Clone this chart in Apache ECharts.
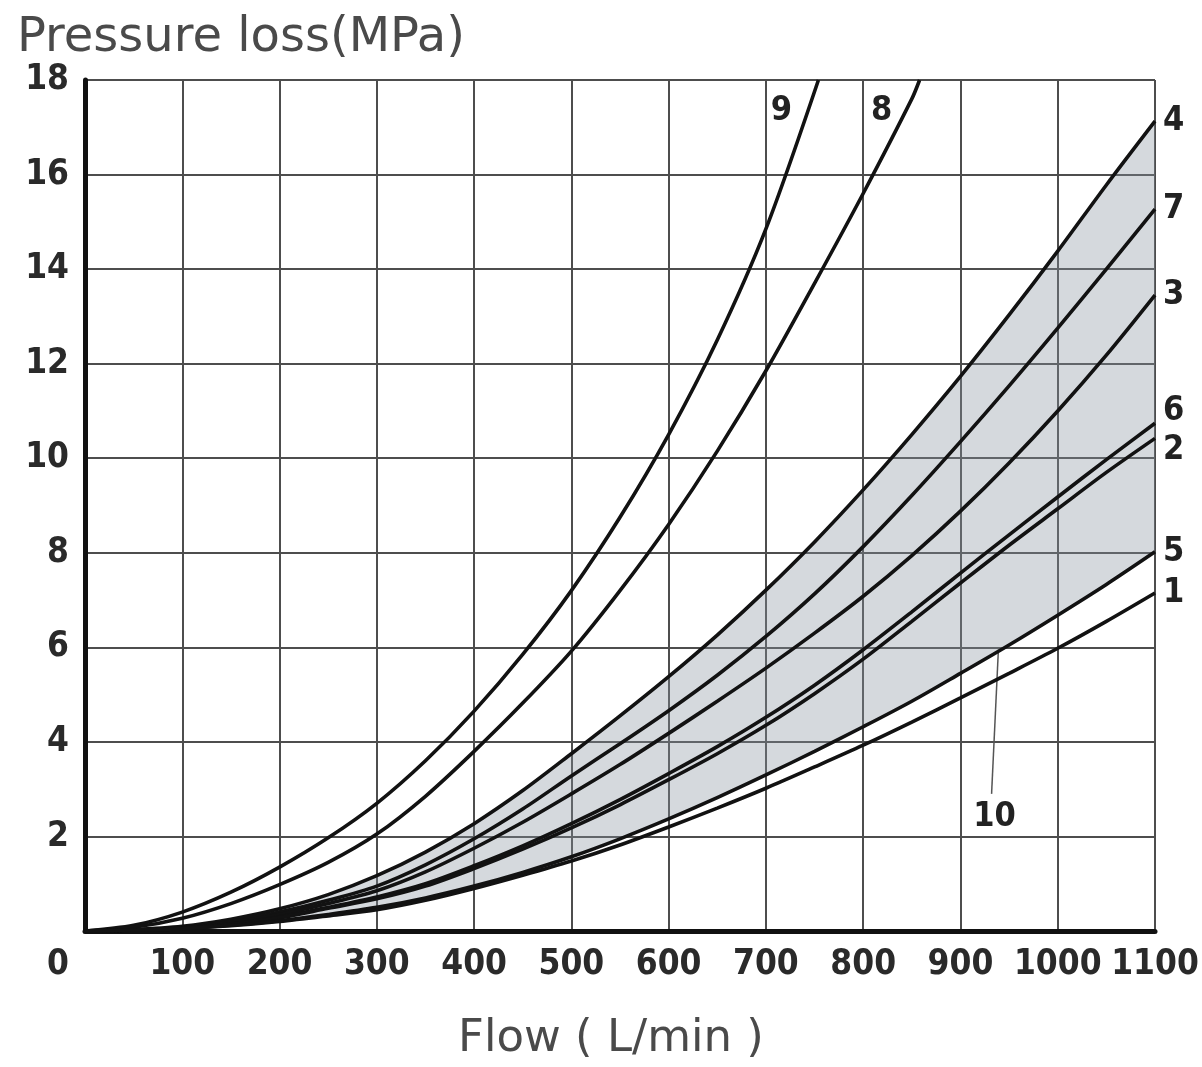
<!DOCTYPE html>
<html>
<head>
<meta charset="utf-8">
<script src="https://cdn.jsdelivr.net/npm/echarts@6/dist/echarts.min.js"></script>
<style>
html,body{margin:0;padding:0;background:#fff;}
#chart{width:1202px;height:1067px;}
</style>
</head>
<body>
<div id="chart"></div>
<script>
// ---- data ----
const flow = [0,50,100,150,200,250,300,350,400,450,500,550,600,650,700,750,800,850,900,950,1000,1050,1100];
const curve4 = [0,0.03,0.1,0.25,0.47,0.77,1.17,1.67,2.27,2.97,3.75,4.55,5.38,6.26,7.21,8.23,9.33,10.5,11.73,13.03,14.38,15.78,17.13];
const curve7 = [0,0.02,0.08,0.2,0.4,0.65,0.95,1.4,1.95,2.58,3.28,3.96,4.66,5.41,6.23,7.13,8.13,9.21,10.35,11.53,12.75,14.0,15.27];
const curve3 = [0,0.02,0.07,0.18,0.35,0.58,0.85,1.25,1.75,2.3,2.9,3.52,4.18,4.86,5.56,6.3,7.08,7.94,8.88,9.9,11.0,12.18,13.45];
const curve6 = [0,0.02,0.06,0.15,0.3,0.5,0.72,1.0,1.38,1.8,2.27,2.78,3.33,3.9,4.52,5.2,5.95,6.75,7.57,8.38,9.18,9.97,10.74];
const curve2 = [0,0.02,0.06,0.14,0.28,0.48,0.68,0.95,1.32,1.73,2.18,2.67,3.2,3.75,4.35,5.02,5.75,6.55,7.36,8.16,8.93,9.7,10.42];
const curve5 = [0,0.02,0.05,0.12,0.22,0.35,0.5,0.7,0.95,1.24,1.57,1.95,2.37,2.82,3.3,3.8,4.32,4.86,5.45,6.05,6.68,7.33,8.02];
const curve1 = [0,0.02,0.05,0.11,0.2,0.32,0.45,0.65,0.9,1.18,1.48,1.82,2.2,2.6,3.02,3.47,3.93,4.42,4.93,5.45,5.98,6.55,7.15];
const flow9 = [0,50,100,150,200,250,300,350,400,450,500,550,600,650,700,754];
const curve9 = [0,0.12,0.4,0.82,1.35,1.97,2.7,3.6,4.65,5.85,7.2,8.75,10.5,12.5,14.85,18];
const flow8 = [0,50,100,150,200,250,300,350,400,450,500,550,600,650,700,750,800,850,858];
const curve8 = [0,0.08,0.27,0.58,0.98,1.45,2.05,2.85,3.8,4.82,5.92,7.2,8.6,10.15,11.85,13.7,15.6,17.6,18];
const xTicks = [0,100,200,300,400,500,600,700,800,900,1000,1100];
const yTicks = [0,2,4,6,8,10,12,14,16,18];

const pairs = (xs, ys) => xs.map((x, i) => [x, ys[i]]);
const band = curve4.map((v, i) => +(v - curve5[i]).toFixed(3));

const numFont = "'Liberation Sans Narrow', 'DejaVu Sans Condensed', sans-serif";
const titleFont = "'DejaVu Sans', 'Liberation Sans', sans-serif";
const lineCol = '#121212';
const SMOOTH = 0.3;

function lbl(text, extra) {
  return Object.assign({ show: true, formatter: text, fontFamily: numFont, fontWeight: 'bold', fontSize: 34, color: '#222', distance: 8 }, extra || {});
}

function curveSeries(name, xs, ys, extra) {
  return Object.assign({
    name: name,
    type: 'line',
    xAxisIndex: 0,
    data: pairs(xs, ys),
    smooth: SMOOTH,
    showSymbol: false,
    symbol: 'none',
    lineStyle: { color: lineCol, width: 3.6 },
    z: 5,
    silent: true,
    endLabel: lbl(name)
  }, extra || {});
}

const chart = echarts.init(document.getElementById('chart'), null, { renderer: 'canvas' });
chart.setOption({
  animation: false,
  backgroundColor: '#fff',
  grid: { left: 85, right: 47, top: 80, bottom: 135, containLabel: false },
  xAxis: [{
    type: 'value', min: 0, max: 1100, interval: 100,
    name: 'Flow ( L/min )',
    nameLocation: 'middle', nameGap: 86,
    nameTextStyle: { fontFamily: titleFont, fontSize: 45, color: '#4a4a4a', padding: [0, 18, 0, 0] },
    axisLine: { show: true, lineStyle: { color: '#111', width: 5 } },
    axisTick: { show: false },
    axisLabel: {
      margin: 16,
      fontFamily: numFont, fontWeight: 'bold', fontSize: 35, color: '#2a2a2a',
      formatter: v => v === 0 ? '{z|0}' : String(v),
      rich: { z: { fontFamily: numFont, fontWeight: 'bold', fontSize: 35, color: '#2a2a2a', padding: [0, 54, 0, 0] } }
    },
    splitLine: { show: true, lineStyle: { color: '#4d4d4d', width: 2 } }
  }, {
    type: 'category', data: flow.map(String), boundaryGap: false, show: false,
    axisLine: { show: false }, axisTick: { show: false }, axisLabel: { show: false }, splitLine: { show: false }
  }],
  yAxis: {
    type: 'value', min: 0, max: 18, interval: 2,
    name: 'Pressure loss(MPa)',
    nameLocation: 'end', nameGap: 17,
    nameTextStyle: { fontFamily: titleFont, fontSize: 48, color: '#4a4a4a', align: 'left', padding: [0, 0, 0, -68] },
    axisLine: { show: true, lineStyle: { color: '#111', width: 5 } },
    axisTick: { show: false },
    axisLabel: {
      margin: 16,
      fontFamily: numFont, fontWeight: 'bold', fontSize: 35, color: '#2a2a2a',
      formatter: v => v === 0 ? '' : String(v)
    },
    splitLine: { show: true, lineStyle: { color: '#4d4d4d', width: 2 } }
  },
  series: [
    {
      name: 'base', type: 'line', xAxisIndex: 1, stack: 'zone', data: curve5,
      smooth: SMOOTH, symbol: 'none', showSymbol: false, lineStyle: { width: 0, opacity: 0 }, silent: true, z: 2
    },
    {
      name: 'zone10', type: 'line', xAxisIndex: 1, stack: 'zone', data: band,
      smooth: SMOOTH, symbol: 'none', showSymbol: false, lineStyle: { width: 0, opacity: 0 }, silent: true, z: 2,
      areaStyle: { color: 'rgba(135,148,160,0.5)' }
    },
    curveSeries('9', flow9, curve9, {
      endLabel: { show: false },
      markPoint: {
        symbol: 'circle', symbolSize: 0, silent: true,
        label: lbl('9', { position: 'inside' }),
        data: [{ coord: [716, 17.35] }]
      }
    }),
    curveSeries('8', flow8, curve8, {
      endLabel: { show: false },
      markPoint: {
        symbol: 'circle', symbolSize: 0, silent: true,
        label: lbl('8', { position: 'inside' }),
        data: [{ coord: [819, 17.35] }]
      }
    }),
    curveSeries('4', flow, curve4),
    curveSeries('7', flow, curve7),
    curveSeries('3', flow, curve3),
    curveSeries('6', flow, curve6, { endLabel: lbl('6', { offset: [0, -12] }) }),
    curveSeries('2', flow, curve2, { endLabel: lbl('2', { offset: [0, 12] }) }),
    curveSeries('5', flow, curve5),
    curveSeries('1', flow, curve1, {
      markPoint: {
        symbol: 'circle', symbolSize: 0, silent: true,
        label: lbl('10', { position: 'inside' }),
        data: [{ coord: [935, 2.4] }]
      },
      markLine: {
        symbol: 'none', silent: true,
        label: { show: false },
        lineStyle: { color: '#555', width: 1.5, type: 'solid' },
        data: [[{ coord: [939, 5.95] }, { coord: [932, 2.9] }]]
      }
    })
  ]
});
</script>
</body>
</html>
